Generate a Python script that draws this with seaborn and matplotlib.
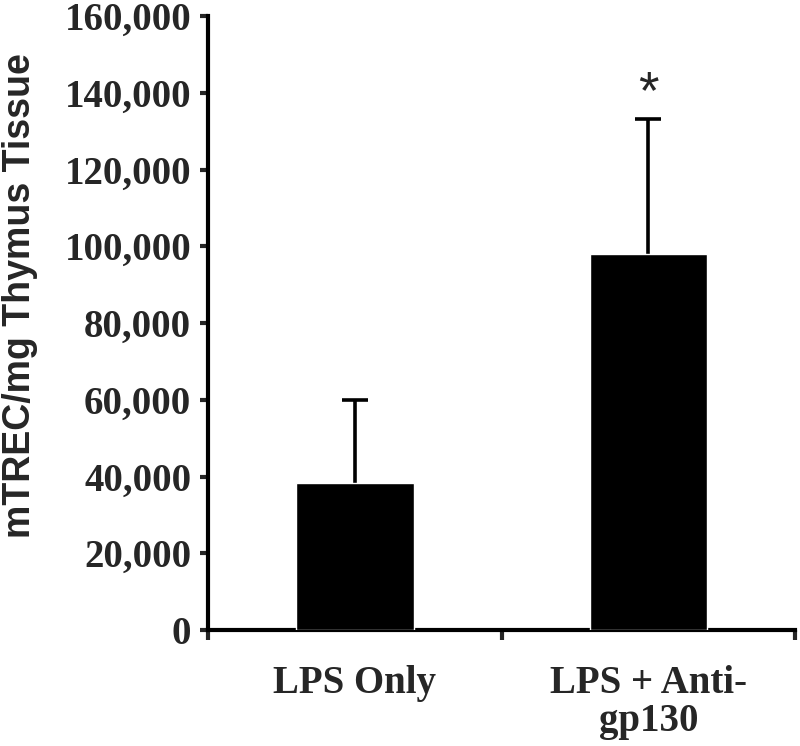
import matplotlib
matplotlib.use('Agg')
import matplotlib.pyplot as plt
import seaborn as sns
import numpy as np
from matplotlib.ticker import FuncFormatter, FixedLocator

# data
groups = ['LPS Only', 'LPS + Anti-\ngp130']
means = [38300, 98000]
sem = [21700, 35200]
yticks = [0, 20000, 40000, 60000, 80000, 100000, 120000, 140000, 160000]

sns.set_style('white')
serif = ['Liberation Serif', 'DejaVu Serif']
sans = ['Liberation Sans', 'DejaVu Sans']

fig = plt.figure(figsize=(8, 7.46), dpi=100)
ax = fig.add_axes([0.26, 0.1555, 0.734, 0.823])

sns.barplot(x=groups, y=means, color='black', width=0.4, errorbar=None,
            saturation=1, ax=ax, zorder=3)
# one-sided (upper) error bars only
eb = ax.errorbar(x=np.arange(len(groups)), y=means, yerr=[[0, 0], sem], fmt='none',
                 ecolor='black', elinewidth=2.6, capsize=9.5, capthick=2.6, zorder=2)
eb[1][0].set_visible(False)

ax.set_xlim(-0.5, 1.5)
ax.set_ylim(0, 160000)
ax.set_yticks(yticks)
ax.yaxis.set_major_formatter(FuncFormatter(lambda v, p: f'{int(v):,}'))

# category borders as ticks, names centred between them
ax.xaxis.set_major_locator(FixedLocator([-0.5, 0.5, 1.5]))
ax.xaxis.set_major_formatter(FuncFormatter(lambda v, p: ''))
ax.xaxis.set_minor_locator(FixedLocator([0, 1]))
ax.set_xticklabels(groups, minor=True)
ax.tick_params(axis='x', which='minor', bottom=False, length=0, pad=25)
ax.tick_params(axis='x', which='major', bottom=True, length=7, width=3, direction='out')
ax.tick_params(axis='y', left=True, length=6, width=3, direction='out', pad=6)

for lab in ax.get_yticklabels():
    lab.set_family(serif)
    lab.set_fontweight('bold')
    lab.set_fontsize(28)
for lab in ax.get_xticklabels(minor=True):
    lab.set_family(serif)
    lab.set_fontweight('bold')
    lab.set_fontsize(28)
    lab.set_linespacing(1.05)

ax.set_ylabel('mTREC/mg Thymus Tissue', family=sans, fontweight='bold', fontsize=27)
ax.yaxis.set_label_coords(-0.29, 0.545)

for s in ['top', 'right']:
    ax.spines[s].set_visible(False)
for s in ['left', 'bottom']:
    ax.spines[s].set_linewidth(3)
    ax.spines[s].set_color('black')
ax.set_xlabel('')

ax.text(1, means[1] + sem[1], '*', ha='center', va='bottom',
        family=sans, fontsize=38)

fig.savefig('out.png', dpi=100)
